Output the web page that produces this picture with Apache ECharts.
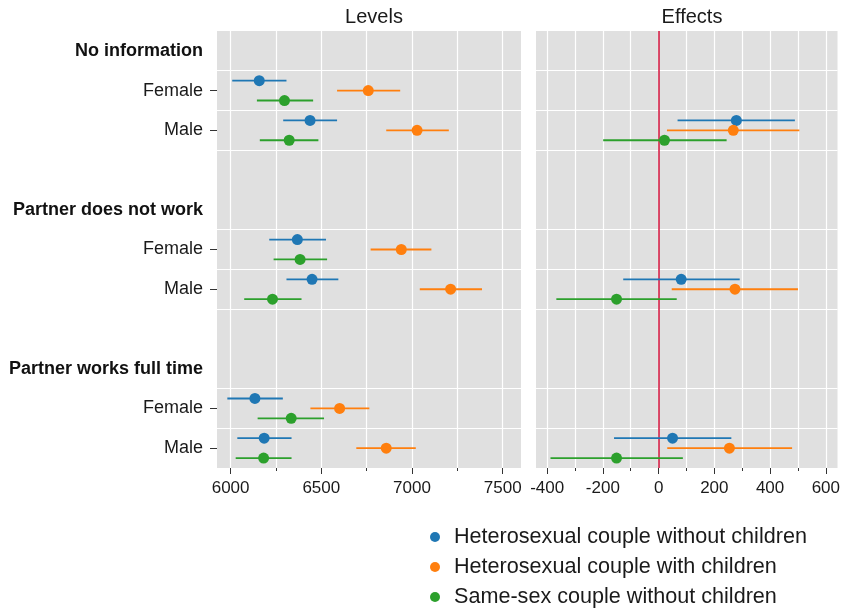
<!DOCTYPE html>
<html lang="en">
  <head>
    <meta charset="utf-8">
    <title>Levels and effects</title>
    <script src="https://cdn.jsdelivr.net/npm/echarts@6/dist/echarts.min.js"></script>
  </head>
  <body style="margin:0;background:#fff;">
    <div id="chart" style="width:843px;height:609px;"></div>
    <script type="text/javascript">
    // rows: group header, Female, Male (and a blank spacer between groups)
    var groups = ['No information', 'Partner does not work', 'Partner works full time'];
    var sexes = ['Female', 'Male'];
    var seriesNames = ['Heterosexual couple without children', 'Heterosexual couple with children', 'Same-sex couple without children'];
    var colors = ['#1f77b4', '#ff7f0e', '#2ca02c'];

    // Levels, order: NoInfo-F, NoInfo-M, NotWork-F, NotWork-M, FullTime-F, FullTime-M
    var levelsEst = [
        [6158, 6438, 6368, 6449, 6134, 6185],
        [6759, 7028, 6941, 7213, 6601, 6858],
        [6297, 6323, 6383, 6231, 6334, 6182]
    ];
    var levelsLo = [
        [6009, 6290, 6213, 6308, 5982, 6037],
        [6587, 6858, 6772, 7043, 6440, 6693],
        [6145, 6161, 6237, 6075, 6149, 6028]
    ];
    var levelsHi = [
        [6308, 6587, 6526, 6594, 6288, 6336],
        [6935, 7203, 7107, 7386, 6765, 7021],
        [6455, 6484, 6532, 6391, 6515, 6336]
    ];

    // Effects (shown on the Male row of each group)
    var effectsEst = [
        [279, 81, 50],
        [268, 274, 254],
        [21, -151, -151]
    ];
    var effectsLo = [
        [68, -127, -160],
        [30, 47, 31],
        [-199, -367, -388]
    ];
    var effectsHi = [
        [489, 291, 261],
        [505, 500, 479],
        [244, 65, 87]
    ];

    var levelTicks = [6000, 6500, 7000, 7500];
    var levelMinor = [6250, 6750, 7250];
    var levelGrid = [6000, 6250, 6500, 6750, 7000, 7250, 7500];
    var effectTicks = [-400, -200, 0, 200, 400, 600];
    var effectMinor = [-300, -100, 100, 300, 500];
    var effectGrid = [-400, -300, -200, -100, 0, 100, 200, 300, 400, 500, 600];

    var rowLabels = [];
    groups.forEach(function (g, gi) {
        rowLabels.push(g);
        sexes.forEach(function (s) { rowLabels.push(s); });
        if (gi < groups.length - 1) rowLabels.push('');
    });
    function rowOf(g, s) { return g * 4 + 1 + s; }

    var font = "'Liberation Sans', Arial, sans-serif";
    var chart = echarts.init(document.getElementById('chart'));

    function makeRender(k) {
        return function (params, api) {
            var band = api.size([0, 1])[1];
            var off = band * 0.25 * (k - 1);
            var pe = api.coord([api.value(0), api.value(3)]);
            var pl = api.coord([api.value(1), api.value(3)]);
            var ph = api.coord([api.value(2), api.value(3)]);
            var y = pe[1] + off;
            return {
                type: 'group',
                children: [
                    {type: 'line', shape: {x1: pl[0], y1: y, x2: ph[0], y2: y},
                     style: {stroke: colors[k], lineWidth: 1.8}},
                    {type: 'circle', shape: {cx: pe[0], cy: y, r: 5.5},
                     style: {fill: colors[k]}}
                ]
            };
        };
    }

    var series = [];
    // helper series: vertical grid lines and the zero line
    series.push({
        type: 'scatter', xAxisIndex: 0, yAxisIndex: 0, data: [], z: 1, silent: true,
        markLine: {
            z: 1, silent: true, symbol: 'none', animation: false, label: {show: false},
            lineStyle: {color: '#ffffff', width: 1.2, type: 'solid'},
            data: levelGrid.map(function (v) { return {xAxis: v}; })
        }
    });
    series.push({
        type: 'scatter', xAxisIndex: 1, yAxisIndex: 1, data: [], z: 1, silent: true,
        markLine: {
            z: 1, silent: true, symbol: 'none', animation: false, label: {show: false},
            lineStyle: {color: '#ffffff', width: 1.2, type: 'solid'},
            data: effectGrid.map(function (v) { return {xAxis: v}; }).concat([
                {xAxis: 0, lineStyle: {color: '#d0103a', width: 1.5}}
            ])
        }
    });

    seriesNames.forEach(function (name, k) {
        var lv = [];
        for (var g = 0; g < groups.length; g++) {
            for (var s = 0; s < sexes.length; s++) {
                var i = g * 2 + s;
                lv.push([levelsEst[k][i], levelsLo[k][i], levelsHi[k][i], rowOf(g, s)]);
            }
        }
        series.push({
            name: name, type: 'custom', xAxisIndex: 0, yAxisIndex: 0, z: 3,
            itemStyle: {color: colors[k]},
            renderItem: makeRender(k),
            encode: {x: [0, 1, 2], y: 3},
            data: lv
        });
        var ef = [];
        for (var g2 = 0; g2 < groups.length; g2++) {
            ef.push([effectsEst[k][g2], effectsLo[k][g2], effectsHi[k][g2], rowOf(g2, 1)]);
        }
        series.push({
            name: name, type: 'custom', xAxisIndex: 1, yAxisIndex: 1, z: 3,
            itemStyle: {color: colors[k]},
            renderItem: makeRender(k),
            encode: {x: [0, 1, 2], y: 3},
            data: ef
        });
    });

    var splitRows = [1, 2, 3, 5, 6, 7, 9, 10];

    function yAxisFor(idx, showLabels) {
        return {
            type: 'category', gridIndex: idx, inverse: true, boundaryGap: true,
            data: rowLabels,
            axisLine: {show: false},
            axisTick: {
                show: showLabels, alignWithLabel: true, length: 7,
                lineStyle: {color: '#333', width: 1},
                interval: function (i) { return i % 4 === 1 || i % 4 === 2; }
            },
            axisLabel: {
                show: showLabels, margin: 14, fontSize: 18, color: '#1a1a1a', fontFamily: font,
                formatter: function (v, i) {
                    return i % 4 === 0 ? '{b|' + v + '}' : v;
                },
                rich: {b: {fontWeight: 'bold', fontSize: 18, color: '#111', fontFamily: font}}
            },
            splitLine: {
                show: true, lineStyle: {color: '#ffffff', width: 1.2},
                interval: function (i) { return splitRows.indexOf(i) >= 0; }
            }
        };
    }

    function xAxisFor(idx, min, max, ticks, show) {
        return {
            type: 'value', gridIndex: idx, min: min, max: max, position: 'bottom',
            axisLine: {show: false},
            splitLine: {show: false},
            axisTick: {show: true, customValues: ticks, length: show ? 6 : 3,
                       lineStyle: {color: '#333', width: 1}},
            axisLabel: {show: show, customValues: ticks, fontSize: 17, margin: 12,
                        color: '#1a1a1a', fontFamily: font,
                        formatter: function (v) { return String(v); }}
        };
    }

    var option = {
        animation: false,
        textStyle: {fontFamily: font},
        title: [
            {text: 'Levels', left: 369, top: 2, textAlign: 'center',
             textStyle: {fontSize: 20, fontWeight: 'normal', color: '#1a1a1a', fontFamily: font}},
            {text: 'Effects', left: 687, top: 2, textAlign: 'center',
             textStyle: {fontSize: 20, fontWeight: 'normal', color: '#1a1a1a', fontFamily: font}}
        ],
        legend: {
            orient: 'vertical', left: 430, top: 526, height: 90, icon: 'circle',
            itemWidth: 28, itemHeight: 10, itemGap: 8, padding: 0,
            textStyle: {fontSize: 21.6, lineHeight: 22, color: '#1a1a1a', fontFamily: font},
            data: seriesNames
        },
        grid: [
            {left: 217, top: 31, width: 304, height: 437, show: true,
             backgroundColor: '#e0e0e0', borderWidth: 0},
            {left: 536, top: 31, width: 302, height: 437, show: true,
             backgroundColor: '#e0e0e0', borderWidth: 0}
        ],
        xAxis: [
            xAxisFor(0, 5925, 7601, levelTicks, true),
            xAxisFor(1, -440, 642, effectTicks, true),
            xAxisFor(0, 5925, 7601, levelMinor, false),
            xAxisFor(1, -440, 642, effectMinor, false)
        ],
        yAxis: [yAxisFor(0, true), yAxisFor(1, false)],
        series: series
    };
    chart.setOption(option);
    </script>
  </body>
</html>
